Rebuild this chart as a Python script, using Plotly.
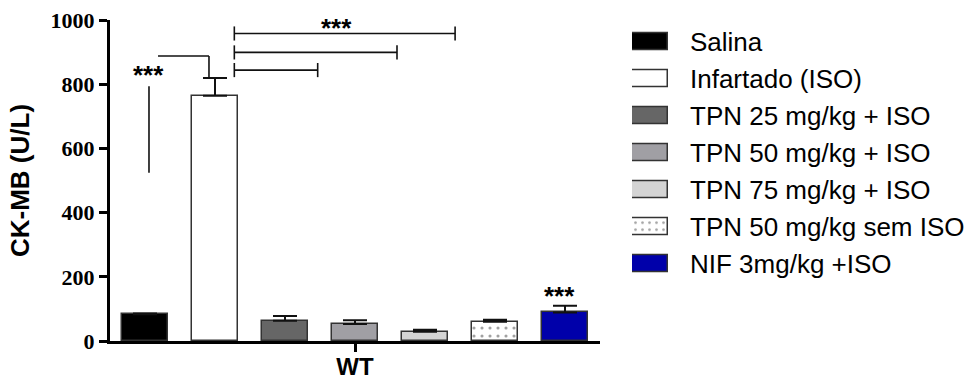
import plotly.graph_objects as go

# ---- data ----
groups = ["Salina", "Infartado (ISO)", "TPN 25 mg/kg + ISO", "TPN 50 mg/kg + ISO",
          "TPN 75 mg/kg + ISO", "TPN 50 mg/kg sem ISO", "NIF 3mg/kg +ISO"]
means = [83, 764, 63, 53, 29, 60, 89]
sems = [3, 55, 15, 12, 6, 6, 21]
colors = ["#000000", "#ffffff", "#666666", "#a09fa4", "#d4d4d4", "#ffffff", "#0000aa"]
patterns = ["", "", "", "", "", ".", ""]
y_ticks = [0, 200, 400, 600, 800, 1000]
x_tick_label = "WT"
y_title = "CK-MB (U/L)"

# significance brackets (data coordinates)
brackets_right = [  # (x_start, x_end, y)
    (1.276, 4.43, 958),
    (1.276, 3.60, 899),
    (1.276, 2.467, 844),
]
W, H = 968, 379
PX_L, PX_R, PX_T, PX_B = 110, 600, 20, 341

fig = go.Figure()

fig.add_trace(go.Bar(
    x=list(range(len(groups))), y=means, width=0.657,
    marker=dict(color=colors, line=dict(color="#333333", width=1.5),
                pattern=dict(shape=patterns, fgcolor="#000000", bgcolor="#ffffff",
                             size=8, solidity=0.12, fillmode="overlay")),
    error_y=dict(type="data", symmetric=False, array=sems, arrayminus=[0] * len(sems),
                 color="#111111", thickness=2, width=12),
    showlegend=False, xaxis="x", yaxis="y",
))

# legend swatches as bars on an auxiliary axis
fig.add_trace(go.Bar(
    orientation="h", y=list(range(len(groups))), x=[1] * len(groups), base=0, width=0.44,
    marker=dict(color=colors, line=dict(color="#333333", width=1.5),
                pattern=dict(shape=patterns, fgcolor="#000000", bgcolor="#ffffff",
                             size=7, solidity=0.12, fillmode="overlay")),
    showlegend=False, xaxis="x2", yaxis="y2", hoverinfo="skip",
))

shapes = []
lw = dict(color="#111111", width=1.6)
for x0, x1, yv in brackets_right:
    shapes.append(dict(type="line", xref="x", yref="y", x0=x0, x1=x1, y0=yv, y1=yv, line=lw))
    for xx in (x0, x1):
        shapes.append(dict(type="line", xref="x", yref="y", x0=xx, x1=xx, y0=yv - 22, y1=yv + 22, line=lw))
# Salina vs Infartado
shapes.append(dict(type="line", xref="x", yref="y", x0=0.057, x1=0.057, y0=524, y1=794, line=lw))
shapes.append(dict(type="line", xref="x", yref="y", x0=0.186, x1=0.914, y0=888, y1=888, line=lw))
shapes.append(dict(type="line", xref="x", yref="y", x0=0.914, x1=0.914, y0=888, y1=819, line=lw))

ann = []
star_font = dict(family="Arial, Liberation Sans", size=26, color="#000000", weight="bold")
ann.append(dict(x=0.057, y=830, xref="x", yref="y", text="***", showarrow=False, font=star_font))
ann.append(dict(x=2.73, y=976, xref="x", yref="y", text="***", showarrow=False, font=star_font))
ann.append(dict(x=5.92, y=140, xref="x", yref="y", text="***", showarrow=False, font=star_font))
for i, g in enumerate(groups):
    ann.append(dict(x=688 / W, y=i, xref="paper", yref="y2", text=g, showarrow=False,
                    xanchor="left", yanchor="middle",
                    font=dict(family="Arial, Liberation Sans", size=26, color="#000000")))

fig.update_layout(
    width=W, height=H, margin=dict(l=0, r=0, t=0, b=0),
    paper_bgcolor="white", plot_bgcolor="white",
    bargap=0, showlegend=False,
    xaxis=dict(domain=[PX_L / W, PX_R / W], range=[-0.5, 6.5], tickvals=[3], ticktext=[x_tick_label],
               showline=True, linecolor="#000000", linewidth=3, ticks="outside", ticklen=8,
               tickwidth=3, tickcolor="#000000", showgrid=False, zeroline=False, automargin=False,
               ticklabelstandoff=-6,
               tickfont=dict(family="Arial, Liberation Sans", size=24, weight="bold", color="#000000"),
               anchor="y"),
    yaxis=dict(domain=[(H - PX_B) / H, (H - PX_T) / H], range=[0, 1000], tickvals=y_ticks,
               showline=True, linecolor="#000000", linewidth=3, ticks="outside", ticklen=8,
               tickwidth=3, tickcolor="#000000", showgrid=False, zeroline=False, automargin=False,
               tickfont=dict(family="Times New Roman, Liberation Serif", size=22, weight="bold",
                             color="#000000"),
               title=dict(text=y_title, standoff=14,
                          font=dict(family="Arial, Liberation Sans", size=26, weight="bold",
                                    color="#000000")),
               anchor="x"),
    xaxis2=dict(domain=[632 / W, 668 / W], range=[0, 1], visible=False, anchor="y2", automargin=False),
    yaxis2=dict(domain=[(H - 282.2) / H, (H - 23.2) / H], range=[6.5, -0.5], visible=False,
                anchor="x2", automargin=False),
    shapes=shapes, annotations=ann,
)

fig.write_html("out.html")
